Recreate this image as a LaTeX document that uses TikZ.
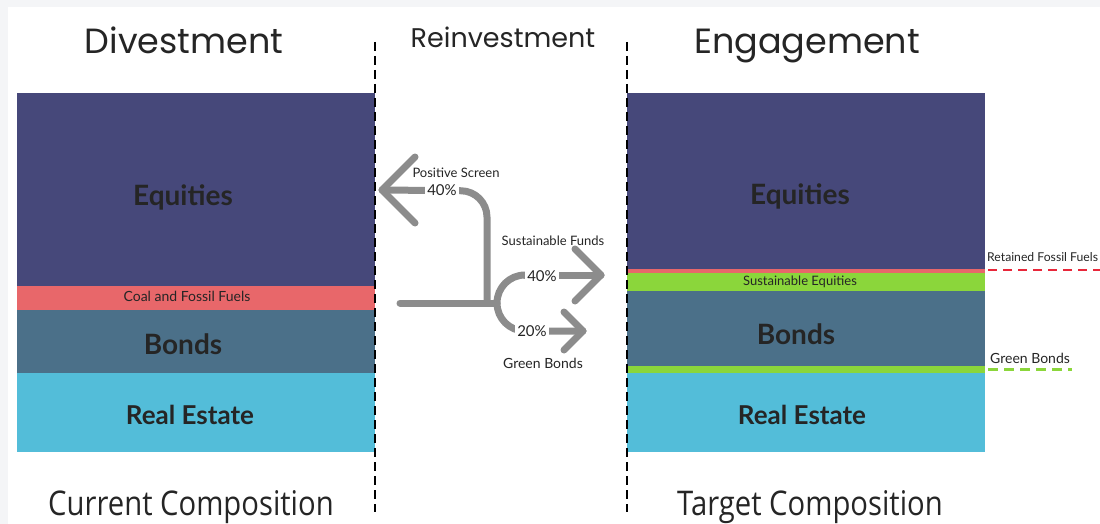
\documentclass[tikz,border=0pt]{standalone}
\usepackage{fontspec}
\newfontfamily\headfont{Poppins}
\newfontfamily\footfont[FakeStretch=0.86]{Open Sans}
\newfontfamily\latofont{Lato}
\definecolor{equity}{HTML}{46487A}
\definecolor{fossil}{HTML}{E8676A}
\definecolor{bond}{HTML}{4B7089}
\definecolor{estate}{HTML}{53BDD9}
\definecolor{green}{HTML}{8BD63B}
\definecolor{flow}{HTML}{8C8C8C}
\definecolor{reddash}{HTML}{E8273A}
\definecolor{ink}{HTML}{252525}
\definecolor{page}{HTML}{F4F5F7}
\tikzset{
  bar/.style={anchor=north west, inner sep=0pt, minimum width=358pt},
  heading/.style={font=\headfont\fontsize{35}{40}\selectfont, text=ink, inner sep=0pt, anchor=base},
  subheading/.style={font=\headfont\fontsize{27}{30}\selectfont, text=ink, inner sep=0pt, anchor=base},
  footing/.style={font=\footfont\fontsize{34}{38}\selectfont, text=ink, inner sep=0pt, anchor=base},
  barlabel/.style={font=\latofont\bfseries\fontsize{28}{32}\selectfont, text=ink, inner sep=0pt},
  estatelabel/.style={font=\latofont\bfseries\fontsize{26}{30}\selectfont, text=ink, inner sep=0pt},
  smalllabel/.style={font=\latofont\fontsize{13}{15}\selectfont, text=ink, inner sep=0pt},
  notelabel/.style={font=\latofont\fontsize{14}{16}\selectfont, text=ink, inner sep=0pt},
  pct/.style={font=\latofont\fontsize{15}{17}\selectfont, text=ink, fill=white, inner sep=2pt},
  divider/.style={black, line width=2.8pt, dash pattern=on 9pt off 5pt},
  flowline/.style={flow, line width=7pt, line cap=round, line join=round},
}
\begin{document}
\begin{tikzpicture}[x=1pt, y=-1pt]
% page and margins
\fill[page] (0,0) rectangle (1100,524);
\fill[white] (8,7) rectangle (1100,524);
\useasboundingbox (0,0) rectangle (1100,524);

% current composition
\node[bar, fill=equity, minimum height=193pt] (lEq) at (17,93) {};
\node[bar, fill=fossil, minimum height=24pt] (lFos) at (17,286) {};
\node[bar, fill=bond, minimum height=63pt] (lBond) at (17,310) {};
\node[bar, fill=estate, minimum height=79pt] (lEst) at (17,373) {};
\node[barlabel] (lEqT) at (183,197) {Equities};
\node[notelabel] (lFosT) at (187,296) {Coal and Fossil Fuels};
\node[barlabel] (lBondT) at (183,344) {Bonds};
\node[estatelabel] (lEstT) at (190,415) {Real Estate};

% target composition
\node[bar, fill=equity, minimum height=176pt] (rEq) at (627,93) {};
\node[bar, fill=fossil, minimum height=4pt] (rFos) at (627,269) {};
\node[bar, fill=green, minimum height=18pt] (rSus) at (627,273) {};
\node[bar, fill=bond, minimum height=75pt] (rBond) at (627,291) {};
\node[bar, fill=green, minimum height=7pt] (rGreen) at (627,366) {};
\node[bar, fill=estate, minimum height=79pt] (rEst) at (627,373) {};
\node[barlabel] (rEqT) at (800,196) {Equities};
\node[smalllabel] (rSusT) at (800,282) {Sustainable Equities};
\node[barlabel] (rBondT) at (796,334) {Bonds};
\node[estatelabel] (rEstT) at (802,415) {Real Estate};

% side notes on the target bars
\node[notelabel, font=\latofont\fontsize{12.2}{14}\selectfont, anchor=west] (retT) at (987,257) {Retained Fossil Fuels};
\node[notelabel, anchor=west] (gbT) at (990,358) {Green Bonds};
\coordinate (retEnd) at (1100,270);
\coordinate (gbEnd) at (1072,369);
\draw[reddash, line width=2.6pt, dash pattern=on 9pt off 6pt] (988,270) -- (retEnd);
\draw[green, line width=3pt, dash pattern=on 10pt off 6pt] (988,369) -- (gbEnd);

% phase dividers
\coordinate (d1top) at (375,42);
\coordinate (d1bot) at (375,512);
\coordinate (d2top) at (627,42);
\coordinate (d2bot) at (627,512);
\draw[divider] (d1top) -- (d1bot);
\draw[divider] (d2top) -- (d2bot);

% headings
\node[heading] (hDiv) at (184,54) {Divestment};
\node[subheading] (hRe) at (503,48) {Reinvestment};
\node[heading] (hEng) at (807,54) {Engagement};
\node[footing] (hCur) at (191,515) {Current Composition};
\node[footing] (hTar) at (810,515) {Target Composition};

% reinvestment flows
\coordinate (src) at (400,303);
\coordinate (fork) at (487,303);
\coordinate (split) at (497,303);
\coordinate (upTip) at (382,190);
\coordinate (sfTip) at (601,275);
\coordinate (gbTip) at (583,331);
\draw[flowline] (src) -- (split);
\draw[flowline, rounded corners=26pt] (fork) -- (487,191) -- (upTip);
\draw[flowline] (415,157) -- (upTip) -- (415,223);
\draw[flowline] (525,275) arc[start angle=270, end angle=90, radius=28] -- (gbTip);
\draw[flowline] (525,275) -- (sfTip);
\draw[flowline] (575,249) -- (sfTip) -- (575,301);
\draw[flowline] (564,312) -- (gbTip) -- (564,350);

\node[pct] (pUp) at (442,190) {40\%};
\node[pct] (pSf) at (542,276) {40\%};
\node[pct] (pGb) at (532,331) {20\%};
\node[smalllabel] (psT) at (456,173) {Positive Screen};
\node[smalllabel] (sfT) at (553,241) {Sustainable Funds};
\node[notelabel] (gbmT) at (543,363) {Green Bonds};
\end{tikzpicture}
\end{document}
